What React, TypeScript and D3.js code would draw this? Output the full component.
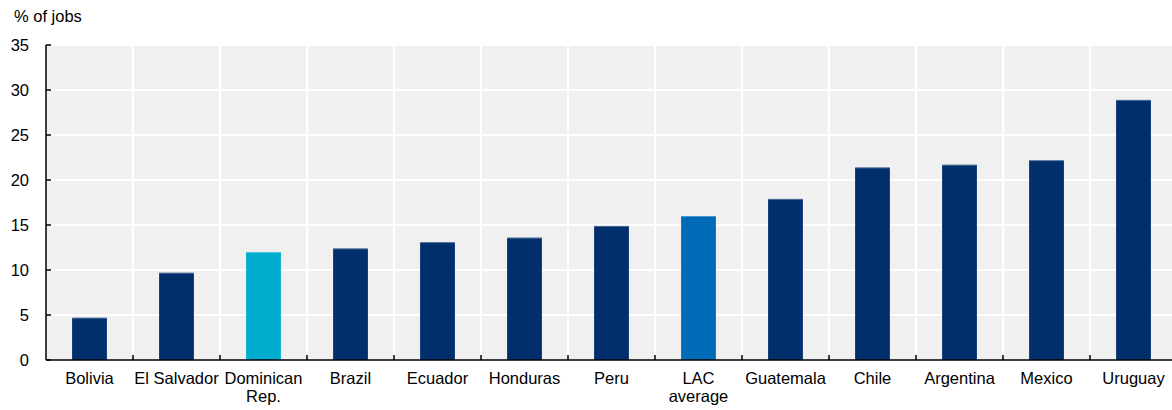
import React from "react";
import * as d3 from "d3";

// Share of jobs by country, with the regional average
const categories: string[][] = [
  ["Bolivia"],
  ["El Salvador"],
  ["Dominican", "Rep."],
  ["Brazil"],
  ["Ecuador"],
  ["Honduras"],
  ["Peru"],
  ["LAC", "average"],
  ["Guatemala"],
  ["Chile"],
  ["Argentina"],
  ["Mexico"],
  ["Uruguay"],
];
const values: number[] = [4.7, 9.7, 12.0, 12.4, 13.1, 13.6, 14.9, 16.0, 17.9, 21.4, 21.7, 22.2, 28.9];
const yTicks: number[] = [0, 5, 10, 15, 20, 25, 30, 35];
const barColors: string[] = [
  "#002F6C", "#002F6C", "#00ACCD", "#002F6C", "#002F6C", "#002F6C", "#002F6C",
  "#006BB6", "#002F6C", "#002F6C", "#002F6C", "#002F6C", "#002F6C",
];
const yAxisTitle = "% of jobs";

const W = 1172;
const H = 410;
// the plot runs slightly past the right edge of the canvas and is clipped there
const plot = { left: 46, right: 1177, top: 45, bottom: 360 };
const FONT = "'Liberation Sans', Arial, Helvetica, sans-serif";

export default function App() {
  const keys = categories.map((c) => c.join(" "));
  const x = d3
    .scaleBand<string>()
    .domain(keys)
    .range([plot.left, plot.right])
    .paddingInner(0.6)
    .paddingOuter(0.3);
  const y = d3.scaleLinear().domain([0, 35]).range([plot.bottom, plot.top]);
  const step = x.step();
  const x0 = plot.left;
  const x1 = plot.right;
  const yBase = y(0);
  const yTop = y(35);
  const boundaries = d3.range(1, keys.length).map((i) => x0 + i * step);

  return (
    <svg
      width={W}
      height={H}
      style={{ position: "absolute", left: 0, top: 0, display: "block", background: "#fff", overflow: "hidden" }}
      fontFamily={FONT}
    >
      {/* plot background */}
      <rect x={x0} y={yTop} width={x1 - x0} height={yBase - yTop} fill="#F0F0F0" />
      {/* horizontal grid */}
      {yTicks.slice(1).map((t) => (
        <line key={"h" + t} x1={x0} x2={x1} y1={y(t)} y2={y(t)} stroke="#fff" strokeWidth={2} />
      ))}
      {/* vertical grid at category boundaries */}
      {boundaries.map((bx, i) => (
        <line key={"v" + i} x1={bx} x2={bx} y1={yTop} y2={yBase} stroke="#fff" strokeWidth={2} />
      ))}
      {/* bars */}
      {keys.map((k, i) => (
        <g key={k}>
          <rect
            x={x(k)}
            y={y(values[i])}
            width={x.bandwidth()}
            height={yBase - y(values[i])}
            fill={barColors[i]}
          />
          <line
            x1={x(k)}
            x2={(x(k) as number) + x.bandwidth()}
            y1={y(values[i]) + 0.5}
            y2={y(values[i]) + 0.5}
            stroke="#fff"
            strokeOpacity={0.3}
            strokeWidth={1}
          />
        </g>
      ))}
      {/* y axis */}
      <line x1={x0} x2={x0} y1={yTop} y2={yBase} stroke="#000" strokeWidth={1.5} />
      {yTicks.map((t) => (
        <g key={"yt" + t}>
          <line x1={x0} x2={x0 + 5} y1={y(t)} y2={y(t)} stroke="#000" strokeWidth={1.5} />
          <text x={29} y={y(t)} dy="0.36em" textAnchor="end" fontSize={16.5} fill="#000">
            {t}
          </text>
        </g>
      ))}
      {/* x axis */}
      <line x1={x0} x2={x1} y1={yBase} y2={yBase} stroke="#000" strokeWidth={1.5} />
      {boundaries.map((bx, i) => (
        <line key={"xt" + i} x1={bx} x2={bx} y1={yBase - 5} y2={yBase} stroke="#000" strokeWidth={1.5} />
      ))}
      {categories.map((lines, i) => (
        <text
          key={"xl" + i}
          x={(x(keys[i]) as number) + x.bandwidth() / 2}
          y={383.5}
          textAnchor="middle"
          fontSize={16.5}
          fill="#000"
        >
          {lines.map((ln, j) => (
            <tspan key={j} x={(x(keys[i]) as number) + x.bandwidth() / 2} dy={j === 0 ? 0 : 18.5}>
              {ln}
            </tspan>
          ))}
        </text>
      ))}
      <text x={14} y={22} fontSize={16.5} fill="#000">
        {yAxisTitle}
      </text>
    </svg>
  );
}
